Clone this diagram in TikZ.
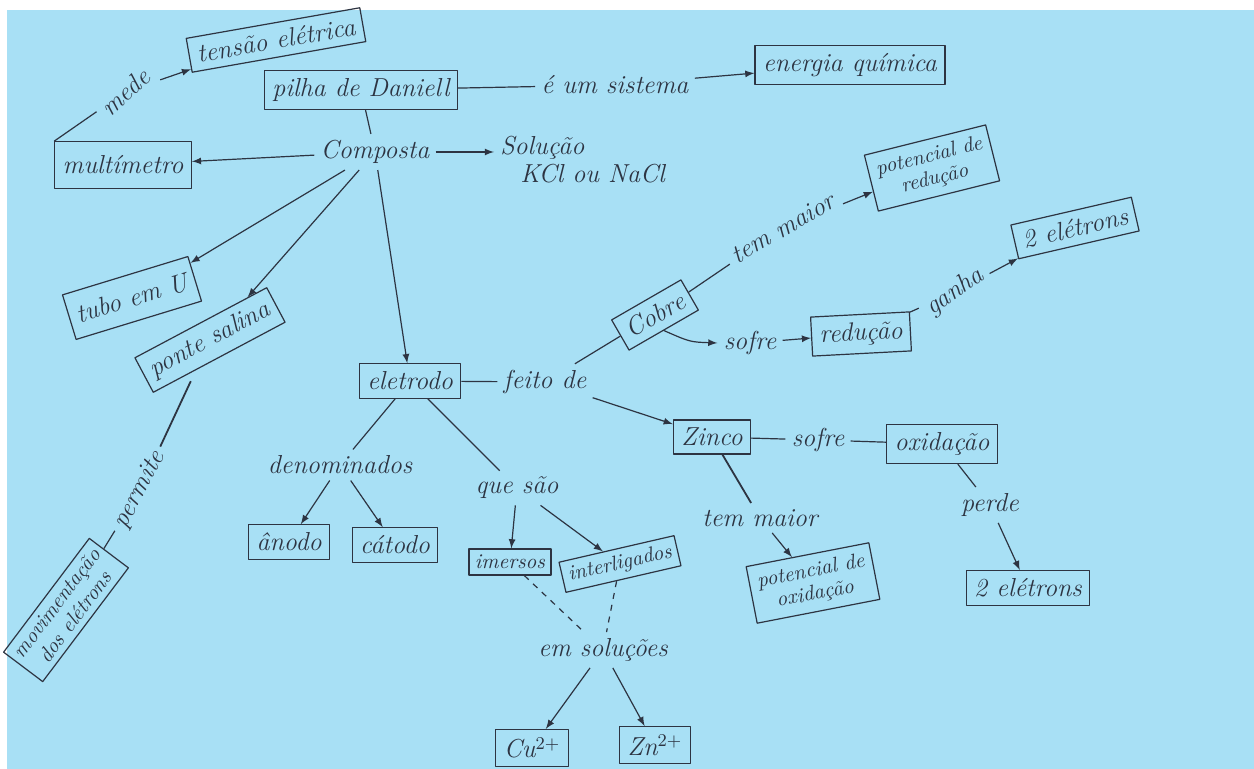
\documentclass[tikz,border=0pt]{standalone}
\usepackage{fontspec}
\definecolor{paper}{RGB}{168,224,245}
\definecolor{pencil}{RGB}{45,52,66}
\begin{document}
\begin{tikzpicture}[x=0.5pt,y=-0.5pt,>=latex,line join=bevel,
  every node/.style={font=\fontsize{13}{14}\itshape\selectfont, text=pencil},
  box/.style={draw=pencil, rectangle, inner sep=4pt, line width=0.6pt},
  word/.style={inner sep=3pt},
  link/.style={draw=pencil, line width=0.6pt},
  small/.style={font=\fontsize{10.5}{11.5}\itshape\selectfont}]
  \useasboundingbox (0,0) rectangle (1254,769);
  \fill[white] (0,0) rectangle (1254,769);
  \fill[paper] (7,10) rectangle (1254,769);
%%
  % Node: pilha de Daniell
  \node[box] (pilha) at (361,90) {pilha de Daniell};
  % Node: e um sistema
  \node[word] (sistema) at (615,85) {é um sistema};
  % Node: energia quimica
  \node[box] (energia) at (850,65) {energia química};
  % Node: Composta
  \node[word] (composta) at (375,152) {Composta};
  % Node: Solucao
  \node[word, align=left, anchor=west] (solucao) at (494,160) {Solução\\\hspace{10pt}KCl ou NaCl};
  % Node: multimetro
  \node[box, inner ysep=7pt] (multimetro) at (123,165) {multímetro};
  % Node: mede
  \node[word, rotate=42] (mede) at (125,92) {mede};
  % Node: tensao eletrica
  \node[box, rotate=10] (tensao) at (276,40) {tensão elétrica};
  % Node: tubo em U
  \node[box, rotate=17, inner ysep=7pt] (tubo) at (132,298) {tubo em U};
  % Node: ponte salina
  \node[box, rotate=28] (ponte) at (210,340) {ponte salina};
  % Node: permite
  \node[word, rotate=62] (permite) at (140,490) {permite};
  % Node: movimentacao dos eletrons
  \node[box, rotate=53, align=center, small, inner sep=3pt] (movim) at (66,610) {movimentação\\dos elétrons};
  % Node: eletrodo
  \node[box] (eletrodo) at (410,381) {eletrodo};
  % Node: feito de
  \node[word] (feito) at (545,382) {feito de};
  % Node: Cobre
  \node[box, rotate=30] (cobre) at (655,315) {Cobre};
  % Node: tem maior (Cobre)
  \node[word, rotate=30] (maiorcu) at (783,228) {tem maior};
  % Node: potencial de reducao
  \node[box, rotate=14, align=center, small] (potred) at (932,168) {potencial de\\redução};
  % Node: sofre (Cobre)
  \node[word] (sofrecu) at (750,343) {sofre};
  % Node: reducao
  \node[box, rotate=3] (reducao) at (861,334) {redução};
  % Node: ganha
  \node[word, rotate=35] (ganha) at (955,292) {ganha};
  % Node: 2 eletrons (ganha)
  \node[box, rotate=13] (eletronsa) at (1075,228) {2 elétrons};
  % Node: Zinco
  \node[box] (zinco) at (712,437) {Zinco};
  % Node: sofre (Zinco)
  \node[word] (sofrezn) at (818,440) {sofre};
  % Node: oxidacao
  \node[box] (oxidacao) at (942,444) {oxidação};
  % Node: tem maior (Zinco)
  \node[word] (maiorzn) at (760,518) {tem maior};
  % Node: potencial de oxidacao
  \node[box, rotate=11, align=center, small] (potoxi) at (813,583) {potencial de\\oxidação};
  % Node: perde
  \node[word] (perde) at (990,505) {perde};
  % Node: 2 eletrons (perde)
  \node[box] (eletronsb) at (1028,588) {2 elétrons};
  % Node: denominados
  \node[word] (denom) at (340,465) {denominados};
  % Node: anodo
  \node[box] (anodo) at (289,542) {ânodo};
  % Node: catodo
  \node[box] (catodo) at (395,545) {cátodo};
  % Node: que sao
  \node[word] (quesao) at (517,488) {que são};
  % Node: imersos
  \node[box, small, inner sep=3pt] (imersos) at (510,562) {imersos};
  % Node: interligados
  \node[box, rotate=13, small, inner sep=3pt] (interl) at (620,564) {interligados};
  % Node: em solucoes
  \node[word] (solucoes) at (603,650) {em soluções};
  % Node: Cu2+
  \node[box] (cu) at (532,748) {Cu$^{2+}$};
  % Node: Zn2+
  \node[box] (zn) at (655,745) {Zn$^{2+}$};
%
  % Edge: pilha -- Composta
  \draw[link] (pilha) -- (composta);
  % Edge: pilha -- e um sistema -> energia
  \draw[link] (pilha) -- (sistema);
  \draw[link,->] (sistema) -- (energia);
  % Edge: Composta -> multimetro, Solucao, tubo, ponte, eletrodo
  \draw[link,->] (composta) -- (multimetro);
  \draw[link,->] (composta) -- (solucao.west |- composta);
  \draw[link,->] (composta) -- (tubo);
  \draw[link,->] (composta) -- (ponte);
  \draw[link,->] (composta) -- (eletrodo);
  % Edge: multimetro -- mede -> tensao
  \draw[link] (multimetro.north west) -- (mede);
  \draw[link,->] (mede) -- (tensao);
  % Edge: ponte -- permite -- movimentacao
  \draw[link, line width=0.9pt, shorten <=6pt] (ponte) -- (permite);
  \draw[link] (permite) -- (movim);
  % Edge: eletrodo -- feito de -> Cobre, Zinco
  \draw[link] (eletrodo) -- (feito);
  \draw[link] (feito) -- (cobre);
  \draw[link,->] (feito) -- (zinco);
  % Edge: Cobre -- tem maior -> potencial de reducao
  \draw[link] (cobre) -- (maiorcu);
  \draw[link,->] (maiorcu) -- (potred);
  % Edge: Cobre -> sofre -> reducao -- ganha -> 2 eletrons
  \draw[link,->] (cobre.south) .. controls (690,342) .. (sofrecu.west);
  \draw[link,->] (sofrecu) -- (reducao);
  \draw[link] (reducao) -- (ganha);
  \draw[link,->] (ganha) -- (eletronsa);
  % Edge: Zinco -- sofre -- oxidacao -- perde -> 2 eletrons
  \draw[link] (zinco) -- (sofrezn);
  \draw[link] (sofrezn) -- (oxidacao);
  \draw[link] (oxidacao) -- (perde);
  \draw[link,->] (perde) -- (eletronsb);
  % Edge: Zinco -- tem maior -> potencial de oxidacao
  \draw[link, line width=0.9pt] (zinco) -- (maiorzn);
  \draw[link,->] (maiorzn) -- (potoxi);
  % Edge: eletrodo -- denominados -> anodo, catodo
  \draw[link] (eletrodo) -- (denom);
  \draw[link,->] (denom) -- (anodo);
  \draw[link,->] (denom) -- (catodo);
  % Edge: eletrodo -- que sao -> imersos, interligados
  \draw[link] (eletrodo) -- (quesao);
  \draw[link,->] (quesao) -- (imersos);
  \draw[link,->] (quesao) -- (interl);
  % Edge: imersos, interligados -- em solucoes
  \draw[link, dashed] (imersos) -- (solucoes);
  \draw[link, dashed] (interl) -- (solucoes);
  % Edge: em solucoes -> Cu2+, Zn2+
  \draw[link,->] (solucoes) -- (cu);
  \draw[link,->] (solucoes) -- (zn);
%
\end{tikzpicture}
\end{document}
